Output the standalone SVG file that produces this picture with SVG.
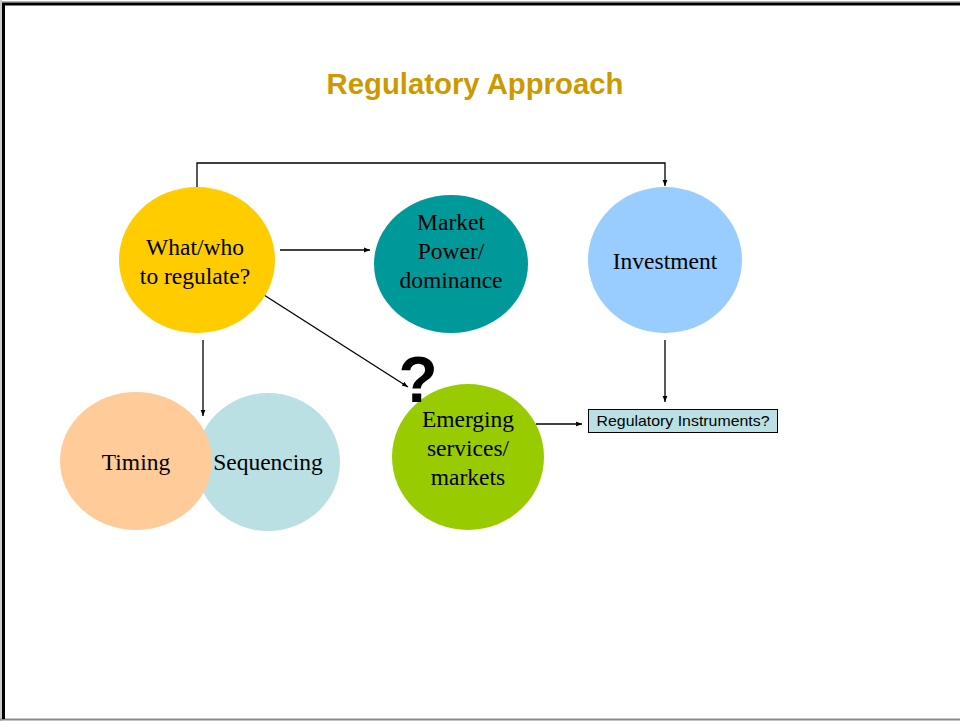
<svg xmlns="http://www.w3.org/2000/svg" width="960" height="721" viewBox="0 0 960 721">
<defs>
<marker id="ah" viewBox="0 0 10 10" refX="10" refY="5" markerWidth="6" markerHeight="6" orient="auto" markerUnits="userSpaceOnUse"><path d="M0,1 L10,5 L0,9 z" fill="#000"/></marker>
<style>
.t{font-family:"Liberation Serif","Times New Roman",serif;font-size:23.5px;fill:#000;text-anchor:middle}
.c{fill:none;stroke:#000;stroke-width:1.3;marker-end:url(#ah)}
</style>
</defs>
<rect width="960" height="721" fill="#fff"/>
<line x1="0" y1="719.5" x2="960" y2="719.5" stroke="#888" stroke-width="2"/>
<line x1="1" y1="0" x2="1" y2="721" stroke="#999" stroke-width="1"/>
<line x1="3.5" y1="3" x2="3.5" y2="719" stroke="#000" stroke-width="3"/>
<line x1="2" y1="4" x2="960" y2="4" stroke="#000" stroke-width="3"/>
<line x1="2" y1="2" x2="960" y2="2" stroke="#666" stroke-width="1"/>
<text x="475" y="94" font-family="Liberation Sans, Arial, sans-serif" font-size="29.3" font-weight="bold" fill="#CC9900" text-anchor="middle">Regulatory Approach</text>
<g id="connectors">
<path class="c" d="M197,187 V163 H665 V186"/>
<path class="c" d="M280,250 H370"/>
<path class="c" d="M264,295 L408,387"/>
<path class="c" d="M203,340 V416"/>
<path class="c" d="M665,340 V402"/>
<path class="c" d="M536,424 H582"/>
</g>
<g id="what"><ellipse cx="197" cy="260" rx="78" ry="73" fill="#FFCC00"/><text class="t" x="195" y="255">What/who</text><text class="t" x="195" y="284">to regulate?</text></g>
<g id="market"><ellipse cx="451" cy="264" rx="77" ry="69" fill="#009999"/><text class="t" x="451" y="230">Market</text><text class="t" x="451" y="259">Power/</text><text class="t" x="451" y="288">dominance</text></g>
<g id="investment"><ellipse cx="665" cy="260" rx="77" ry="73" fill="#99CCFF"/><text class="t" x="665" y="269">Investment</text></g>
<g id="sequencing"><ellipse cx="268" cy="462" rx="72" ry="69" fill="#BBE0E3"/><text class="t" x="268" y="470">Sequencing</text></g>
<g id="timing"><ellipse cx="136" cy="461" rx="76" ry="69" fill="#FFCC99"/><text class="t" x="136" y="470">Timing</text></g>
<g id="emerging"><ellipse cx="468" cy="457" rx="76" ry="73" fill="#99CC00"/><text class="t" x="468" y="427">Emerging</text><text class="t" x="468" y="456">services/</text><text class="t" x="468" y="485">markets</text></g>
<g id="question"><text x="418" y="402" font-family="Liberation Sans, Arial, sans-serif" font-size="64" font-weight="bold" fill="#000" text-anchor="middle">?</text></g>
<g id="instruments"><rect x="588.5" y="409.5" width="189" height="23" fill="#BBE0E3" stroke="#000" stroke-width="1"/><text x="683" y="426" font-family="Liberation Sans, Arial, sans-serif" font-size="15" fill="#000" text-anchor="middle" textLength="173" lengthAdjust="spacingAndGlyphs">Regulatory Instruments?</text></g>
</svg>
